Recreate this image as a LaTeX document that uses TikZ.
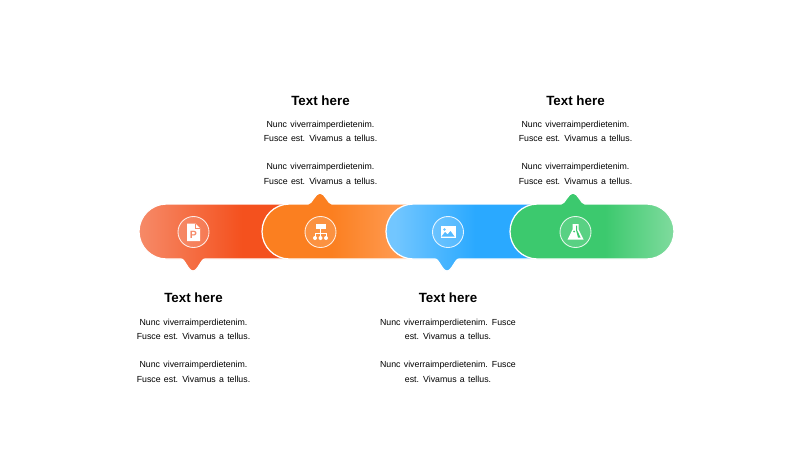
\documentclass[tikz,border=0pt]{standalone}
\usepackage{xcolor}
\usepackage{fontspec}
\usepackage{tikz}
\setmainfont[WordSpace=1.35]{Liberation Sans}
\newfontfamily\headfamily{Liberation Sans}
\usetikzlibrary{calc}

\definecolor{redLight}{HTML}{F68A68}
\definecolor{redBase}{HTML}{F4511E}
\definecolor{orangeBase}{HTML}{FB7F20}
\definecolor{orangeLight}{HTML}{FF9A50}
\definecolor{blueLight}{HTML}{72C6FF}
\definecolor{blueBase}{HTML}{2AA9FF}
\definecolor{greenBase}{HTML}{3CC96E}
\definecolor{greenLight}{HTML}{80DB9E}

% inner 25bp to 75bp is what lands on the band
\pgfdeclarehorizontalshading{redband}{100bp}{color(0bp)=(redLight); color(25bp)=(redLight); color(57bp)=(redBase); color(100bp)=(redBase)}
\pgfdeclarehorizontalshading{orangeband}{100bp}{color(0bp)=(orangeBase); color(47bp)=(orangeBase); color(68bp)=(orangeLight); color(100bp)=(orangeLight)}
\pgfdeclarehorizontalshading{blueband}{100bp}{color(0bp)=(blueLight); color(28bp)=(blueLight); color(54bp)=(blueBase); color(100bp)=(blueBase)}
\pgfdeclarehorizontalshading{greenband}{100bp}{color(0bp)=(greenBase); color(54bp)=(greenBase); color(75bp)=(greenLight); color(100bp)=(greenLight)}

% pointer on the upper and lower edge of a band
\newcommand{\tipup}[1]{-- (#1+12,204) .. controls (#1+8,204) and (#1+5,193) .. (#1,193) .. controls (#1-5,193) and (#1-8,204) .. (#1-12,204)}
\newcommand{\tipdown}[1]{-- (#1-12,259) .. controls (#1-8,259) and (#1-5,271) .. (#1,271) .. controls (#1+5,271) and (#1+8,259) .. (#1+12,259)}

\tikzset{
    bandline/.style={draw=white, line width=0.7pt},
    iconring/.style={circle, draw=white, draw opacity=0.85, line width=0.5pt, fill=white, fill opacity=0.15, text opacity=1, minimum size=0.62cm, inner sep=0pt},
    headtext/.style={font=\fontsize{7.6}{9}\headfamily\bfseries\selectfont, text=black, inner sep=0pt},
    bodytext/.style={font=\fontsize{5}{8.1}\selectfont, text=black, align=center, inner sep=0pt},
}

\begin{document}
\begin{tikzpicture}[x=0.02cm, y=-0.02cm]
    \useasboundingbox (0,0) rectangle (800,450);

    \shadedraw[shading=redband, bandline] (166.5,204) arc[start angle=270, end angle=90, radius=27.5] \tipdown{193} -- (300,259) -- (300,204) -- cycle;
    \shadedraw[shading=orangeband, bandline] (289.5,204) arc[start angle=270, end angle=90, radius=27.5] -- (420,259) -- (420,204) \tipup{320} -- cycle;
    \shadedraw[shading=blueband, bandline] (413.5,204) arc[start angle=270, end angle=90, radius=27.5] \tipdown{447} -- (540,259) -- (540,204) -- cycle;
    \shadedraw[shading=greenband, bandline] (537.5,204) arc[start angle=270, end angle=90, radius=27.5] -- (646.5,259) arc[start angle=90, end angle=-90, radius=27.5] \tipup{573} -- cycle;

    \node[iconring] (iconDoc) at (193.5,232) {};
    \node[iconring] (iconOrg) at (320.5,232) {};
    \node[iconring] (iconImg) at (448,232) {};
    \node[iconring] (iconLab) at (575.5,232) {};

    % document
    \begin{scope}[shift={(iconDoc)}]
        \fill[white] (-6.5,-8.5) -- (2,-8.5) -- (6.5,-4) -- (6.5,9) -- (-6.5,9) -- cycle;
        \draw[redLight, line width=0.3pt] (2,-8.5) -- (2,-4) -- (6.5,-4);
        \node[font=\fontsize{6}{6}\selectfont\bfseries, text=redLight, inner sep=0pt] (docLetter) at (0,2.5) {P};
    \end{scope}

    % org chart
    \begin{scope}[shift={(iconOrg)}]
        \fill[white] (-5,-8) rectangle (5,-3.5);
        \draw[white, line width=0.55pt] (0,-3.5) -- (0,5);
        \draw[white, line width=0.55pt] (-5.5,5) -- (-5.5,1) -- (5.5,1) -- (5.5,5);
        \fill[white] (-5.5,6) circle (2);
        \fill[white] (0,6) circle (2);
        \fill[white] (5.5,6) circle (2);
    \end{scope}

    % picture
    \begin{scope}[shift={(iconImg)}]
        \fill[white] (-7.5,-6) rectangle (7.5,6);
        \fill[blueBase!70] (-3.5,-2.5) circle (1.3);
        \fill[blueBase!80] (-6.5,4.5) -- (-3,0) -- (-0.5,2.5) -- (2.5,-1) -- (6.5,4.5) -- cycle;
    \end{scope}

    % flask
    \begin{scope}[shift={(iconLab)}]
        \fill[white] (-3,-8) -- (3,-8) -- (3,-2.5) -- (8,7.5) -- (-8,7.5) -- (-3,-2.5) -- cycle;
        \fill[greenBase] (0.5,-6.5) -- (1.5,-6.5) -- (1.5,-2) -- (5,5.5) -- (2.5,5.5) -- (0.5,-2) -- cycle;
        \fill[greenBase] (-1.5,-0.5) circle (1);
    \end{scope}

    \node[headtext] (headA) at (193.5,297.5) {Text here};
    \node[headtext] (headB) at (320.5,100.5) {Text here};
    \node[headtext] (headC) at (448,297.5) {Text here};
    \node[headtext] (headD) at (575.5,100.5) {Text here};

    \node[bodytext] (bodyA) at (193.5,350.5) {Nunc viverraimperdietenim.\\Fusce est. Vivamus a tellus.\\[8.1pt]Nunc viverraimperdietenim.\\Fusce est. Vivamus a tellus.};
    \node[bodytext] (bodyB) at (320.5,152.5) {Nunc viverraimperdietenim.\\Fusce est. Vivamus a tellus.\\[8.1pt]Nunc viverraimperdietenim.\\Fusce est. Vivamus a tellus.};
    \node[bodytext] (bodyC) at (448,350.5) {Nunc viverraimperdietenim. Fusce\\est. Vivamus a tellus.\\[8.1pt]Nunc viverraimperdietenim. Fusce\\est. Vivamus a tellus.};
    \node[bodytext] (bodyD) at (575.5,152.5) {Nunc viverraimperdietenim.\\Fusce est. Vivamus a tellus.\\[8.1pt]Nunc viverraimperdietenim.\\Fusce est. Vivamus a tellus.};
\end{tikzpicture}
\end{document}
